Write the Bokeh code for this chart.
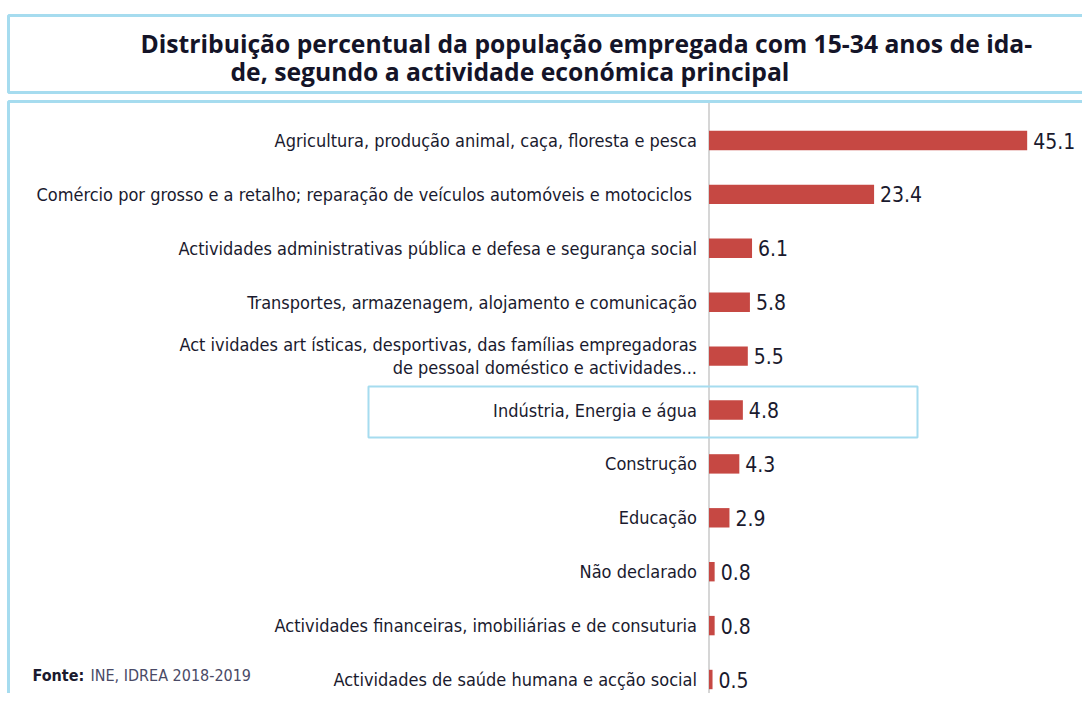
from bokeh.plotting import figure
from bokeh.models import Range1d, BoxAnnotation, Label
from bokeh.core.properties import value
from bokeh.embed import file_html
from bokeh.resources import INLINE

categories = [
    "Agricultura, produção animal, caça, floresta e pesca",
    "Comércio por grosso e a retalho; reparação de veículos automóveis e  motociclos",
    "Actividades administrativas pública e defesa e segurança social",
    "Transportes, armazenagem, alojamento e comunicação",
    "Act ividades art ísticas, desportivas, das famílias empregadoras\nde pessoal doméstico e actividades...",
    "Indústria, Energia e água",
    "Construção",
    "Educação",
    "Não declarado",
    "Actividades financeiras, imobiliárias e de consuturia",
    "Actividades de saúde humana e acção social",
]
values = [45.1, 23.4, 6.1, 5.8, 5.5, 4.8, 4.3, 2.9, 0.8, 0.8, 0.5]
value_labels = ["45.1", "23.4", "6.1", "5.8", "5.5", "4.8", "4.3", "2.9", "0.8", "0.8", "0.5"]
title_lines = ["Distribuição percentual da população empregada com 15-34 anos de ida-",
               "de, segundo a actividade económica principal"]
source_bold = "Fonte:"
source_text = "INE, IDREA 2018-2019"
highlight = "Indústria, Energia e água"

W, H = 1082, 693
X0_PX, PX_PER_UNIT = 708.5, 7.055
Y0_PX, STEP = 140.0, 53.9

idx = list(range(len(categories)))

p = figure(width=W, height=H, output_backend="svg", toolbar_location=None,
           x_range=Range1d(-X0_PX / PX_PER_UNIT, (W - X0_PX) / PX_PER_UNIT),
           y_range=Range1d((H - Y0_PX) / STEP, -Y0_PX / STEP),
           min_border=0, background_fill_color="white", border_fill_color="white")
p.axis.visible = False
p.grid.visible = False
p.outline_line_color = None

BLUE = "#a6dcef"
TXT = "#1a1a2e"
LABEL_FONT = "'Liberation Sans Narrow', 'DejaVu Sans Condensed', Lato"


def sy(py):
    return H - py


def sx(px):
    return px


def box(l, r, t, b, w):
    return BoxAnnotation(left=sx(l), right=sx(r), top=sy(t), bottom=sy(b),
                         left_units="screen", right_units="screen",
                         top_units="screen", bottom_units="screen",
                         fill_color=None, fill_alpha=0, line_color=BLUE,
                         line_alpha=1.0, line_width=w)


# title box and chart box
p.add_layout(box(8, 1200, 15, 92, 3))
p.add_layout(box(8, 1200, 101, 800, 3))

# axis line
p.segment(x0=[0], x1=[0], y0=[(102 - Y0_PX) / STEP], y1=[(H - Y0_PX) / STEP + 1],
          line_color="#d6d6d6", line_width=2)

# highlight box around the highlighted category
p.add_layout(box(368, 917, 386, 437, 2))

# bars
p.hbar(y=idx, left=0, right=values, height=0.36, fill_color="#c64843", line_color=None)

# category labels
p.text(x=[0] * len(idx), y=idx, text=categories, x_offset=-12, text_align="right",
       text_baseline="middle", text_font=value(LABEL_FONT), text_font_size="18px",
       text_color=TXT, text_line_height=1.1)

# value labels
p.text(x=values, y=idx, text=value_labels, x_offset=6, text_align="left",
       text_baseline="middle", text_font=value(LABEL_FONT), text_font_size="21px", text_color=TXT)

# title
p.add_layout(Label(x=sx(140), y=sy(43), x_units="screen", y_units="screen", text=title_lines[0],
                   text_font="Open Sans", text_font_style="bold", text_font_size="24.7px",
                   text_baseline="alphabetic", text_color="#141428"))
p.add_layout(Label(x=sx(230), y=sy(71), x_units="screen", y_units="screen", text=title_lines[1],
                   text_font="Open Sans", text_font_style="bold", text_font_size="24.7px",
                   text_baseline="alphabetic", text_color="#141428"))

# source
p.add_layout(Label(x=sx(32), y=sy(675), x_units="screen", y_units="screen", text=source_bold,
                   text_font=LABEL_FONT, text_font_style="bold", text_font_size="16px",
                   text_baseline="alphabetic", text_color="#1a1a2e"))
p.add_layout(Label(x=sx(90), y=sy(675), x_units="screen", y_units="screen", text=source_text,
                   text_font=LABEL_FONT, text_font_size="16px",
                   text_baseline="alphabetic", text_color="#4a4a66"))

open("out.html", "w").write(file_html(p, INLINE))
